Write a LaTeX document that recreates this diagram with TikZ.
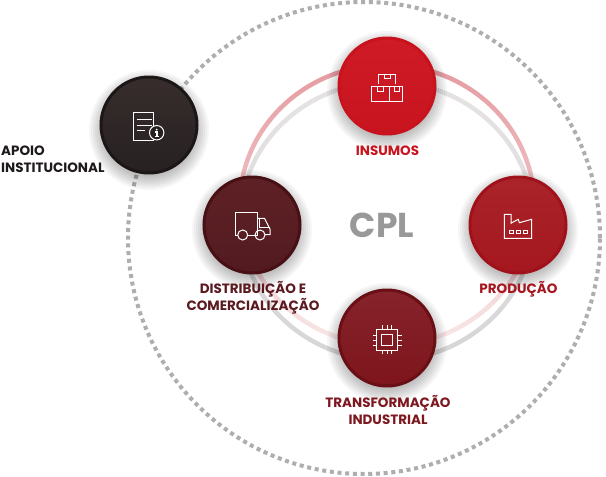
\documentclass[tikz,border=0pt]{standalone}
\usepackage{fontspec}
\setmainfont{Poppins}
\definecolor{cIns}{HTML}{C8141F}
\definecolor{cPro}{HTML}{A5161F}
\definecolor{cDis}{HTML}{5A1A20}
\definecolor{cTra}{HTML}{7E1820}
\definecolor{cApo}{HTML}{1F1A1A}
\definecolor{insR}{HTML}{C8121D}\definecolor{insT}{HTML}{CF1B25}\definecolor{insB}{HTML}{C8141F}
\definecolor{proR}{HTML}{A0111B}\definecolor{proT}{HTML}{A92429}\definecolor{proB}{HTML}{A5171F}
\definecolor{disR}{HTML}{471015}\definecolor{disT}{HTML}{5E2125}\definecolor{disB}{HTML}{521B20}
\definecolor{traR}{HTML}{6A0F15}\definecolor{traT}{HTML}{86232B}\definecolor{traB}{HTML}{7E151C}
\definecolor{apoR}{HTML}{1C1617}\definecolor{apoT}{HTML}{372D2D}\definecolor{apoB}{HTML}{272121}
\definecolor{dotC}{HTML}{AEAEAE}
\definecolor{pinkT}{HTML}{E59AA0}\definecolor{pinkM}{HTML}{E5ABAF}\definecolor{pinkB}{HTML}{F9E8E8}
\definecolor{greyT}{HTML}{E6E3E3}\definecolor{greyB}{HTML}{D6D6D6}
\definecolor{cplC}{HTML}{999999}
\newcommand{\softshadow}[1]{\foreach \rr in {42,44,...,60}{\fill[black,opacity=.035] ([yshift=-5pt]#1) circle [radius=\rr pt];}}
\tikzset{
  hub/.style n args={3}{circle,minimum size=96pt,inner sep=0pt,line width=3pt,draw=#1,top color=#2,bottom color=#3},
  lab/.style={font=\fontsize{13.5}{17}\selectfont\bfseries,inner sep=0pt,align=center},
  ico/.style={draw=white,line width=1pt,line join=miter},
}
\begin{document}
\begin{tikzpicture}[x=1pt,y=-1pt]
\useasboundingbox (0,0) rectangle (606,477);
\fill[white] (0,0) rectangle (606,477);
% outer dotted ring
\draw[color=dotC,line width=4pt,dash pattern=on 4pt off 3.7pt] (364,238) circle [radius=236pt];
% inner rings
\shade[even odd rule,top color=greyT,bottom color=greyB]
  (387,221) ellipse [x radius=149pt,y radius=141.5pt] (387,221) ellipse [x radius=144.5pt,y radius=137pt];
\shade[even odd rule,top color=pinkT,middle color=pinkM,bottom color=pinkB]
  (387,205) ellipse [x radius=149.5pt,y radius=142.5pt] (387,205) ellipse [x radius=145pt,y radius=138pt];
% shadows
\softshadow{387,86}\softshadow{518,225}\softshadow{252,225}\softshadow{387,338}\softshadow{149,125}
% hubs
\node[hub={insR}{insT}{insB}] (ins) at (387,86) {};
\node[hub={proR}{proT}{proB}] (pro) at (518,225) {};
\node[hub={disR}{disT}{disB}] (dis) at (252,225) {};
\node[hub={traR}{traT}{traB}] (tra) at (387,338) {};
\node[hub={apoR}{apoT}{apoB}] (apo) at (149,125) {};
% insumos icon
\draw[ico] (378.7,84) -- (378.7,74) -- (395.7,74) -- (395.7,84);
\draw[ico] (384.5,74) -- (384.5,78.5) -- (390,78.5) -- (390,74);
\draw[ico] (371.5,86) rectangle (389.3,101.3) (389.3,86) rectangle (402.7,101.3);
\draw[ico] (377.5,86) -- (377.5,91) -- (383,91) -- (383,86);
\draw[ico] (394,86) -- (394,91) -- (399,91) -- (399,86);
% factory icon
\draw[ico] (504.4,238.3) -- (504.4,214.4) -- (511,214.4) -- (511,223.2) -- (518.3,219.3) -- (519.3,222.7) -- (531.7,219.3) -- (531.7,238.3) -- cycle;
\draw[ico] (509.3,230) rectangle (513.3,233.4) (516,230) rectangle (520,233.4) (523.3,230) rectangle (527.3,233.4);
% truck icon
\draw[ico] (237.6,235) -- (235,235) -- (235,212.7) -- (257.3,212.7) -- (257.3,235) -- (247.8,235);
\draw[ico] (257.3,218.3) -- (264.5,218.3) -- (270,229.3) -- (270,234.5) -- (265.2,234.5);
\draw[ico] (259.5,218.5) -- (259.5,227.5) -- (269.5,227.5);
\draw[ico] (242.7,235) circle [radius=5pt] (260,235) circle [radius=5pt];
% chip icon
\draw[ico] (376.7,329.3) rectangle (397.7,350) (381.4,334.3) rectangle (392.7,345.7);
\draw[ico] (382.7,325) -- (382.7,329.3) (387.3,325) -- (387.3,329.3) (391.7,325) -- (391.7,329.3)
  (382.7,350) -- (382.7,354.3) (387.3,350) -- (387.3,354.3) (391.7,350) -- (391.7,354.3)
  (372.7,335) -- (376.7,335) (372.7,340) -- (376.7,340) (372.7,345) -- (376.7,345)
  (397.7,335) -- (401.7,335) (397.7,340) -- (401.7,340) (397.7,345) -- (401.7,345);
% document icon
\draw[ico] (133.3,112.7) rectangle (153.3,140);
\draw[ico] (136.7,119.3) -- (151.7,119.3) (136.7,125) -- (151.7,125) (136.7,130.7) -- (145,130.7);
\draw[ico,fill=apoB] (156.7,132.7) circle [radius=7.2pt];
\fill[white] (156.7,129.6) circle [radius=1pt];
\draw[white,line width=1.5pt] (155.3,132) -- (157,132) -- (157,136.4) (155.2,136.4) -- (158.8,136.4);
% texts
\node[font=\fontsize{34.5}{34.5}\selectfont\bfseries,text=cplC,inner sep=0pt] (cpl) at (382,225) {CPL};
\node[lab,text=cIns] (tins) at (387.5,150.5) {INSUMOS};
\node[lab,text=cPro] (tpro) at (518.5,289) {PRODUÇÃO};
\node[lab,text=cDis] (tdis) at (253,297.5) {DISTRIBUIÇÃO E\\COMERCIALIZAÇÃO};
\node[lab,text=cTra] (ttra) at (388,410) {TRANSFORMAÇÃO\\INDUSTRIAL};
\node[lab,text=cApo,align=left,anchor=west] (tapo) at (1,159) {APOIO\\INSTITUCIONAL};
\end{tikzpicture}
\end{document}
